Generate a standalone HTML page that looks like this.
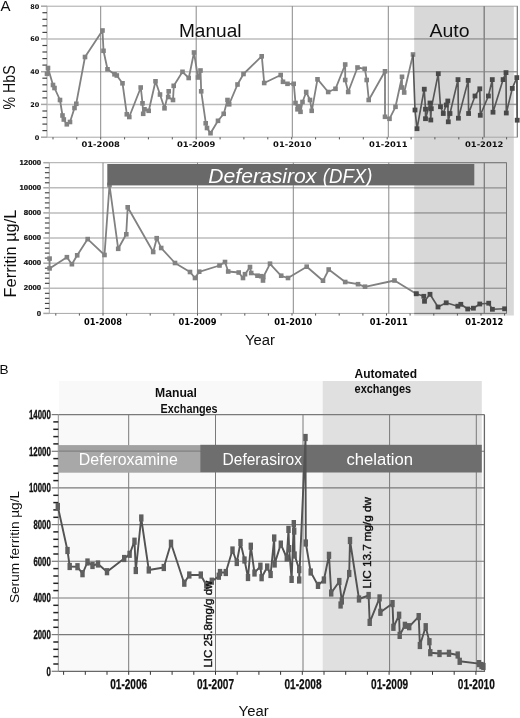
<!DOCTYPE html>
<html><head><meta charset="utf-8"><title>Figure</title>
<style>
html,body{margin:0;padding:0;background:#fff;}
svg{display:block;}
text{font-family:"Liberation Sans",sans-serif;}
.dv{font-family:"DejaVu Sans","Liberation Sans",sans-serif;font-weight:bold;}
.b{font-weight:bold;}
</style></head><body>
<svg width="520" height="718" viewBox="0 0 520 718">
<defs><filter id="soft" x="-2%" y="-2%" width="104%" height="104%"><feGaussianBlur stdDeviation="0.4"/></filter></defs>
<rect width="520" height="718" fill="#fff"/>
<g filter="url(#soft)">

<rect x="414.2" y="6" width="99.6" height="309.5" fill="#d8d8d8"/>
<rect x="47.0" y="6.2" width="470.3" height="131.0" fill="none" stroke="#a8a8a8" stroke-width="1"/>
<line x1="47.0" y1="104.4" x2="517.3" y2="104.4" stroke="#bcbcbc" stroke-width="1.5"/>
<line x1="47.0" y1="71.7" x2="517.3" y2="71.7" stroke="#bcbcbc" stroke-width="1.5"/>
<line x1="47.0" y1="38.9" x2="517.3" y2="38.9" stroke="#bcbcbc" stroke-width="1.5"/>
<line x1="100.7" y1="6.2" x2="100.7" y2="137.2" stroke="#7c7c7c" stroke-width="0.9"/>
<line x1="196.2" y1="6.2" x2="196.2" y2="137.2" stroke="#7c7c7c" stroke-width="0.9"/>
<line x1="292.3" y1="6.2" x2="292.3" y2="137.2" stroke="#7c7c7c" stroke-width="0.9"/>
<line x1="388.3" y1="6.2" x2="388.3" y2="137.2" stroke="#7c7c7c" stroke-width="0.9"/>
<line x1="484.2" y1="6.2" x2="484.2" y2="137.2" stroke="#7c7c7c" stroke-width="0.9"/>
<line x1="414.2" y1="104.4" x2="517.3" y2="104.4" stroke="#9a9a9a" stroke-width="1.2"/>
<line x1="414.2" y1="71.7" x2="517.3" y2="71.7" stroke="#9a9a9a" stroke-width="1.2"/>
<line x1="414.2" y1="38.9" x2="517.3" y2="38.9" stroke="#9a9a9a" stroke-width="1.2"/>
<line x1="484.2" y1="6.2" x2="484.2" y2="137.2" stroke="#787878" stroke-width="0.85"/>
<line x1="517.3" y1="6.2" x2="517.3" y2="137.2" stroke="#777" stroke-width="1"/>
<line x1="41.0" y1="137.2" x2="47.0" y2="137.2" stroke="#a6a6a6" stroke-width="1.5"/>
<line x1="42.4" y1="130.6" x2="47.0" y2="130.6" stroke="#444" stroke-width="1.2"/>
<line x1="42.4" y1="124.1" x2="47.0" y2="124.1" stroke="#444" stroke-width="1.2"/>
<line x1="42.4" y1="117.5" x2="47.0" y2="117.5" stroke="#444" stroke-width="1.2"/>
<line x1="42.4" y1="111.0" x2="47.0" y2="111.0" stroke="#444" stroke-width="1.2"/>
<line x1="41.0" y1="104.4" x2="47.0" y2="104.4" stroke="#a6a6a6" stroke-width="1.5"/>
<line x1="42.4" y1="97.9" x2="47.0" y2="97.9" stroke="#444" stroke-width="1.2"/>
<line x1="42.4" y1="91.3" x2="47.0" y2="91.3" stroke="#444" stroke-width="1.2"/>
<line x1="42.4" y1="84.8" x2="47.0" y2="84.8" stroke="#444" stroke-width="1.2"/>
<line x1="42.4" y1="78.2" x2="47.0" y2="78.2" stroke="#444" stroke-width="1.2"/>
<line x1="41.0" y1="71.7" x2="47.0" y2="71.7" stroke="#a6a6a6" stroke-width="1.5"/>
<line x1="42.4" y1="65.1" x2="47.0" y2="65.1" stroke="#444" stroke-width="1.2"/>
<line x1="42.4" y1="58.6" x2="47.0" y2="58.6" stroke="#444" stroke-width="1.2"/>
<line x1="42.4" y1="52.0" x2="47.0" y2="52.0" stroke="#444" stroke-width="1.2"/>
<line x1="42.4" y1="45.5" x2="47.0" y2="45.5" stroke="#444" stroke-width="1.2"/>
<line x1="41.0" y1="38.9" x2="47.0" y2="38.9" stroke="#a6a6a6" stroke-width="1.5"/>
<line x1="42.4" y1="32.4" x2="47.0" y2="32.4" stroke="#444" stroke-width="1.2"/>
<line x1="42.4" y1="25.8" x2="47.0" y2="25.8" stroke="#444" stroke-width="1.2"/>
<line x1="42.4" y1="19.3" x2="47.0" y2="19.3" stroke="#444" stroke-width="1.2"/>
<line x1="42.4" y1="12.7" x2="47.0" y2="12.7" stroke="#444" stroke-width="1.2"/>
<line x1="41.0" y1="6.2" x2="47.0" y2="6.2" stroke="#a6a6a6" stroke-width="1.5"/>
<text class="dv" x="39.3" y="139.6" font-size="6.5" text-anchor="end" fill="#111">0</text>
<text class="dv" x="39.3" y="106.8" font-size="6.5" text-anchor="end" fill="#111">20</text>
<text class="dv" x="39.3" y="74.1" font-size="6.5" text-anchor="end" fill="#111">40</text>
<text class="dv" x="39.3" y="41.3" font-size="6.5" text-anchor="end" fill="#111">60</text>
<text class="dv" x="39.3" y="8.6" font-size="6.5" text-anchor="end" fill="#111">80</text>
<line x1="53.0" y1="137.2" x2="53.0" y2="139.4" stroke="#555" stroke-width="1"/>
<line x1="76.8" y1="137.2" x2="76.8" y2="139.4" stroke="#555" stroke-width="1"/>
<line x1="100.7" y1="137.2" x2="100.7" y2="139.4" stroke="#555" stroke-width="1"/>
<line x1="124.6" y1="137.2" x2="124.6" y2="139.4" stroke="#555" stroke-width="1"/>
<line x1="148.4" y1="137.2" x2="148.4" y2="139.4" stroke="#555" stroke-width="1"/>
<line x1="172.3" y1="137.2" x2="172.3" y2="139.4" stroke="#555" stroke-width="1"/>
<line x1="196.2" y1="137.2" x2="196.2" y2="139.4" stroke="#555" stroke-width="1"/>
<line x1="220.1" y1="137.2" x2="220.1" y2="139.4" stroke="#555" stroke-width="1"/>
<line x1="243.9" y1="137.2" x2="243.9" y2="139.4" stroke="#555" stroke-width="1"/>
<line x1="267.8" y1="137.2" x2="267.8" y2="139.4" stroke="#555" stroke-width="1"/>
<line x1="291.7" y1="137.2" x2="291.7" y2="139.4" stroke="#555" stroke-width="1"/>
<line x1="315.6" y1="137.2" x2="315.6" y2="139.4" stroke="#555" stroke-width="1"/>
<line x1="339.4" y1="137.2" x2="339.4" y2="139.4" stroke="#555" stroke-width="1"/>
<line x1="363.3" y1="137.2" x2="363.3" y2="139.4" stroke="#555" stroke-width="1"/>
<line x1="387.2" y1="137.2" x2="387.2" y2="139.4" stroke="#555" stroke-width="1"/>
<line x1="411.1" y1="137.2" x2="411.1" y2="139.4" stroke="#555" stroke-width="1"/>
<line x1="434.9" y1="137.2" x2="434.9" y2="139.4" stroke="#555" stroke-width="1"/>
<line x1="458.8" y1="137.2" x2="458.8" y2="139.4" stroke="#555" stroke-width="1"/>
<line x1="482.7" y1="137.2" x2="482.7" y2="139.4" stroke="#555" stroke-width="1"/>
<line x1="506.6" y1="137.2" x2="506.6" y2="139.4" stroke="#555" stroke-width="1"/>
<text class="dv" x="100.7" y="147" font-size="7.7" text-anchor="middle" fill="#111" textLength="38.4" lengthAdjust="spacingAndGlyphs">01-2008</text>
<text class="dv" x="196.2" y="147" font-size="7.7" text-anchor="middle" fill="#111" textLength="38.4" lengthAdjust="spacingAndGlyphs">01-2009</text>
<text class="dv" x="292.3" y="147" font-size="7.7" text-anchor="middle" fill="#111" textLength="38.4" lengthAdjust="spacingAndGlyphs">01-2010</text>
<text class="dv" x="388.3" y="147" font-size="7.7" text-anchor="middle" fill="#111" textLength="38.4" lengthAdjust="spacingAndGlyphs">01-2011</text>
<text class="dv" x="484.2" y="147" font-size="7.7" text-anchor="middle" fill="#111" textLength="38.4" lengthAdjust="spacingAndGlyphs">01-2012</text>
<polyline points="47.0,73.8 48.0,68.0 53.0,85.0 54.5,88.0 60.0,100.0 62.5,115.5 63.8,119.5 66.8,124.2 70.0,122.0 74.5,108.0 76.2,103.8 85.0,57.0 102.5,30.5 103.5,50.8 107.5,69.2 114.5,74.2 116.8,75.5 122.5,83.2 126.8,114.2 129.2,117.0 140.8,87.5 142.5,103.2 143.2,113.8 144.5,109.2 148.8,110.8 155.5,81.2 160.0,94.5 164.5,108.2 168.8,91.2 168.2,97.0 173.0,100.0 173.8,85.8 182.5,71.8 188.8,78.0 194.0,52.5 198.0,77.5 200.5,70.5 201.2,91.2 205.8,123.2 207.0,128.0 210.5,133.2 218.0,120.8 223.8,113.8 227.5,100.0 229.2,104.2 237.5,84.5 243.5,74.0 261.8,56.2 264.2,83.0 280.8,75.0 283.0,81.8 287.5,83.8 293.8,83.8 295.5,103.0 297.5,109.2 299.2,106.2 300.5,111.8 302.5,102.0 306.2,92.0 310.0,100.0 311.8,110.8 317.5,79.2 328.2,92.0 335.5,88.8 345.2,64.5 345.2,80.0 348.2,92.0 357.5,67.5 364.8,68.8 366.8,80.0 368.8,100.0 385.0,71.2 385.0,116.8 389.5,118.8 395.5,106.8 402.0,76.8 402.0,87.5 404.2,92.5 413.0,54.5" fill="none" stroke="#818181" stroke-width="1.8" stroke-linejoin="round"/>
<rect x="44.7" y="71.5" width="4.6" height="4.6" fill="#828282"/><rect x="45.7" y="65.7" width="4.6" height="4.6" fill="#828282"/><rect x="50.7" y="82.7" width="4.6" height="4.6" fill="#828282"/><rect x="52.2" y="85.7" width="4.6" height="4.6" fill="#828282"/><rect x="57.7" y="97.7" width="4.6" height="4.6" fill="#828282"/><rect x="60.2" y="113.2" width="4.6" height="4.6" fill="#828282"/><rect x="61.5" y="117.2" width="4.6" height="4.6" fill="#828282"/><rect x="64.5" y="122.0" width="4.6" height="4.6" fill="#828282"/><rect x="67.7" y="119.7" width="4.6" height="4.6" fill="#828282"/><rect x="72.2" y="105.7" width="4.6" height="4.6" fill="#828282"/><rect x="74.0" y="101.5" width="4.6" height="4.6" fill="#828282"/><rect x="82.7" y="54.7" width="4.6" height="4.6" fill="#828282"/><rect x="100.2" y="28.2" width="4.6" height="4.6" fill="#828282"/><rect x="101.2" y="48.5" width="4.6" height="4.6" fill="#828282"/><rect x="105.2" y="67.0" width="4.6" height="4.6" fill="#828282"/><rect x="112.2" y="72.0" width="4.6" height="4.6" fill="#828282"/><rect x="114.5" y="73.2" width="4.6" height="4.6" fill="#828282"/><rect x="120.2" y="81.0" width="4.6" height="4.6" fill="#828282"/><rect x="124.5" y="112.0" width="4.6" height="4.6" fill="#828282"/><rect x="127.0" y="114.7" width="4.6" height="4.6" fill="#828282"/><rect x="138.4" y="85.2" width="4.6" height="4.6" fill="#828282"/><rect x="140.2" y="101.0" width="4.6" height="4.6" fill="#828282"/><rect x="140.9" y="111.5" width="4.6" height="4.6" fill="#828282"/><rect x="142.2" y="107.0" width="4.6" height="4.6" fill="#828282"/><rect x="146.4" y="108.5" width="4.6" height="4.6" fill="#828282"/><rect x="153.2" y="79.0" width="4.6" height="4.6" fill="#828282"/><rect x="157.7" y="92.2" width="4.6" height="4.6" fill="#828282"/><rect x="162.2" y="106.0" width="4.6" height="4.6" fill="#828282"/><rect x="166.4" y="89.0" width="4.6" height="4.6" fill="#828282"/><rect x="165.9" y="94.7" width="4.6" height="4.6" fill="#828282"/><rect x="170.7" y="97.7" width="4.6" height="4.6" fill="#828282"/><rect x="171.4" y="83.5" width="4.6" height="4.6" fill="#828282"/><rect x="180.2" y="69.5" width="4.6" height="4.6" fill="#828282"/><rect x="186.4" y="75.7" width="4.6" height="4.6" fill="#828282"/><rect x="191.7" y="50.2" width="4.6" height="4.6" fill="#828282"/><rect x="195.7" y="75.2" width="4.6" height="4.6" fill="#828282"/><rect x="198.2" y="68.2" width="4.6" height="4.6" fill="#828282"/><rect x="198.9" y="89.0" width="4.6" height="4.6" fill="#828282"/><rect x="203.4" y="121.0" width="4.6" height="4.6" fill="#828282"/><rect x="204.7" y="125.7" width="4.6" height="4.6" fill="#828282"/><rect x="208.2" y="130.9" width="4.6" height="4.6" fill="#828282"/><rect x="215.7" y="118.5" width="4.6" height="4.6" fill="#828282"/><rect x="221.4" y="111.5" width="4.6" height="4.6" fill="#828282"/><rect x="225.2" y="97.7" width="4.6" height="4.6" fill="#828282"/><rect x="226.9" y="102.0" width="4.6" height="4.6" fill="#828282"/><rect x="235.2" y="82.2" width="4.6" height="4.6" fill="#828282"/><rect x="241.2" y="71.7" width="4.6" height="4.6" fill="#828282"/><rect x="259.4" y="54.0" width="4.6" height="4.6" fill="#828282"/><rect x="261.9" y="80.7" width="4.6" height="4.6" fill="#828282"/><rect x="278.4" y="72.7" width="4.6" height="4.6" fill="#828282"/><rect x="280.7" y="79.5" width="4.6" height="4.6" fill="#828282"/><rect x="285.2" y="81.5" width="4.6" height="4.6" fill="#828282"/><rect x="291.4" y="81.5" width="4.6" height="4.6" fill="#828282"/><rect x="293.2" y="100.7" width="4.6" height="4.6" fill="#828282"/><rect x="295.2" y="107.0" width="4.6" height="4.6" fill="#828282"/><rect x="296.9" y="104.0" width="4.6" height="4.6" fill="#828282"/><rect x="298.2" y="109.5" width="4.6" height="4.6" fill="#828282"/><rect x="300.2" y="99.7" width="4.6" height="4.6" fill="#828282"/><rect x="303.9" y="89.7" width="4.6" height="4.6" fill="#828282"/><rect x="307.7" y="97.7" width="4.6" height="4.6" fill="#828282"/><rect x="309.4" y="108.5" width="4.6" height="4.6" fill="#828282"/><rect x="315.2" y="77.0" width="4.6" height="4.6" fill="#828282"/><rect x="325.9" y="89.7" width="4.6" height="4.6" fill="#828282"/><rect x="333.2" y="86.5" width="4.6" height="4.6" fill="#828282"/><rect x="342.9" y="62.2" width="4.6" height="4.6" fill="#828282"/><rect x="342.9" y="77.7" width="4.6" height="4.6" fill="#828282"/><rect x="345.9" y="89.7" width="4.6" height="4.6" fill="#828282"/><rect x="355.2" y="65.2" width="4.6" height="4.6" fill="#828282"/><rect x="362.4" y="66.5" width="4.6" height="4.6" fill="#828282"/><rect x="364.4" y="77.7" width="4.6" height="4.6" fill="#828282"/><rect x="366.4" y="97.7" width="4.6" height="4.6" fill="#828282"/><rect x="382.7" y="69.0" width="4.6" height="4.6" fill="#828282"/><rect x="382.7" y="114.5" width="4.6" height="4.6" fill="#828282"/><rect x="387.2" y="116.5" width="4.6" height="4.6" fill="#828282"/><rect x="393.2" y="104.5" width="4.6" height="4.6" fill="#828282"/><rect x="399.7" y="74.5" width="4.6" height="4.6" fill="#828282"/><rect x="399.7" y="85.2" width="4.6" height="4.6" fill="#828282"/><rect x="401.9" y="90.2" width="4.6" height="4.6" fill="#828282"/><rect x="410.7" y="52.2" width="4.6" height="4.6" fill="#828282"/>
<polyline points="413.0,54.5 415.0,110.0 417.0,128.8 424.2,89.2 425.5,109.2 425.5,118.8 430.0,103.0 430.8,120.0 431.2,108.8 438.2,73.8 440.5,106.8 443.2,113.5 446.2,105.0 447.8,101.0 448.2,121.8 450.0,113.5 458.0,79.6 458.4,118.2 468.2,80.4 468.6,113.5 475.0,96.0 479.8,88.8 480.3,115.3 488.4,96.0 492.3,79.6 493.0,112.2 503.1,79.6 506.0,72.6 506.3,113.0 512.3,88.4 516.8,77.6 517.2,120.2" fill="none" stroke="#565656" stroke-width="1.65" stroke-linejoin="round"/>
<rect x="412.6" y="107.6" width="4.8" height="4.8" fill="#4a4a4a"/><rect x="414.6" y="126.3" width="4.8" height="4.8" fill="#4a4a4a"/><rect x="421.9" y="86.8" width="4.8" height="4.8" fill="#4a4a4a"/><rect x="423.1" y="106.8" width="4.8" height="4.8" fill="#4a4a4a"/><rect x="423.1" y="116.3" width="4.8" height="4.8" fill="#4a4a4a"/><rect x="427.6" y="100.6" width="4.8" height="4.8" fill="#4a4a4a"/><rect x="428.4" y="117.6" width="4.8" height="4.8" fill="#4a4a4a"/><rect x="428.9" y="106.3" width="4.8" height="4.8" fill="#4a4a4a"/><rect x="435.9" y="71.3" width="4.8" height="4.8" fill="#4a4a4a"/><rect x="438.1" y="104.3" width="4.8" height="4.8" fill="#4a4a4a"/><rect x="440.9" y="111.1" width="4.8" height="4.8" fill="#4a4a4a"/><rect x="443.9" y="102.6" width="4.8" height="4.8" fill="#4a4a4a"/><rect x="445.4" y="98.6" width="4.8" height="4.8" fill="#4a4a4a"/><rect x="445.9" y="119.4" width="4.8" height="4.8" fill="#4a4a4a"/><rect x="447.6" y="111.1" width="4.8" height="4.8" fill="#4a4a4a"/><rect x="455.6" y="77.2" width="4.8" height="4.8" fill="#4a4a4a"/><rect x="456.0" y="115.8" width="4.8" height="4.8" fill="#4a4a4a"/><rect x="465.8" y="78.0" width="4.8" height="4.8" fill="#4a4a4a"/><rect x="466.2" y="111.1" width="4.8" height="4.8" fill="#4a4a4a"/><rect x="472.6" y="93.6" width="4.8" height="4.8" fill="#4a4a4a"/><rect x="477.4" y="86.4" width="4.8" height="4.8" fill="#4a4a4a"/><rect x="477.9" y="112.9" width="4.8" height="4.8" fill="#4a4a4a"/><rect x="486.0" y="93.6" width="4.8" height="4.8" fill="#4a4a4a"/><rect x="489.9" y="77.2" width="4.8" height="4.8" fill="#4a4a4a"/><rect x="490.6" y="109.8" width="4.8" height="4.8" fill="#4a4a4a"/><rect x="500.7" y="77.2" width="4.8" height="4.8" fill="#4a4a4a"/><rect x="503.6" y="70.2" width="4.8" height="4.8" fill="#4a4a4a"/><rect x="503.9" y="110.6" width="4.8" height="4.8" fill="#4a4a4a"/><rect x="509.9" y="86.0" width="4.8" height="4.8" fill="#4a4a4a"/><rect x="514.4" y="75.2" width="4.8" height="4.8" fill="#4a4a4a"/><rect x="514.8" y="117.8" width="4.8" height="4.8" fill="#4a4a4a"/>
<text x="179" y="37" font-size="18.2" fill="#111" textLength="62.5" lengthAdjust="spacingAndGlyphs">Manual</text>
<text x="429.5" y="37" font-size="18.2" fill="#111" textLength="40" lengthAdjust="spacingAndGlyphs">Auto</text>
<text x="0.4" y="10.6" font-size="15" fill="#111">A</text>
<text transform="translate(15.2,109.4) rotate(-90)" font-size="16.4" fill="#111" textLength="44" lengthAdjust="spacingAndGlyphs">% HbS</text>
<rect x="49.3" y="162.7" width="457.2" height="150.7" fill="none" stroke="#a8a8a8" stroke-width="1"/>
<line x1="49.3" y1="288.3" x2="506.5" y2="288.3" stroke="#bcbcbc" stroke-width="1.5"/>
<line x1="414.2" y1="288.3" x2="506.5" y2="288.3" stroke="#9a9a9a" stroke-width="1.2"/>
<line x1="49.3" y1="263.2" x2="506.5" y2="263.2" stroke="#bcbcbc" stroke-width="1.5"/>
<line x1="414.2" y1="263.2" x2="506.5" y2="263.2" stroke="#9a9a9a" stroke-width="1.2"/>
<line x1="49.3" y1="238.0" x2="506.5" y2="238.0" stroke="#bcbcbc" stroke-width="1.5"/>
<line x1="414.2" y1="238.0" x2="506.5" y2="238.0" stroke="#9a9a9a" stroke-width="1.2"/>
<line x1="49.3" y1="212.9" x2="506.5" y2="212.9" stroke="#bcbcbc" stroke-width="1.5"/>
<line x1="414.2" y1="212.9" x2="506.5" y2="212.9" stroke="#9a9a9a" stroke-width="1.2"/>
<line x1="49.3" y1="187.8" x2="506.5" y2="187.8" stroke="#bcbcbc" stroke-width="1.5"/>
<line x1="414.2" y1="187.8" x2="506.5" y2="187.8" stroke="#9a9a9a" stroke-width="1.2"/>
<line x1="103.0" y1="162.7" x2="103.0" y2="313.4" stroke="#7c7c7c" stroke-width="0.9"/>
<line x1="197.5" y1="162.7" x2="197.5" y2="313.4" stroke="#7c7c7c" stroke-width="0.9"/>
<line x1="293.3" y1="162.7" x2="293.3" y2="313.4" stroke="#7c7c7c" stroke-width="0.9"/>
<line x1="388.8" y1="162.7" x2="388.8" y2="313.4" stroke="#7c7c7c" stroke-width="0.9"/>
<line x1="484.3" y1="162.7" x2="484.3" y2="313.4" stroke="#7c7c7c" stroke-width="0.9"/>
<line x1="484.3" y1="162.7" x2="484.3" y2="313.4" stroke="#787878" stroke-width="0.85"/>
<path d="M414.2 162.7 H506.5 V313.4 H414.2" fill="none" stroke="#777" stroke-width="1"/>
<line x1="43.3" y1="313.4" x2="49.3" y2="313.4" stroke="#a6a6a6" stroke-width="1.5"/>
<line x1="44.9" y1="308.4" x2="49.3" y2="308.4" stroke="#3a3a3a" stroke-width="1.1"/>
<line x1="44.9" y1="303.4" x2="49.3" y2="303.4" stroke="#3a3a3a" stroke-width="1.1"/>
<line x1="44.9" y1="298.3" x2="49.3" y2="298.3" stroke="#3a3a3a" stroke-width="1.1"/>
<line x1="44.9" y1="293.3" x2="49.3" y2="293.3" stroke="#3a3a3a" stroke-width="1.1"/>
<line x1="43.3" y1="288.3" x2="49.3" y2="288.3" stroke="#a6a6a6" stroke-width="1.5"/>
<line x1="44.9" y1="283.3" x2="49.3" y2="283.3" stroke="#3a3a3a" stroke-width="1.1"/>
<line x1="44.9" y1="278.2" x2="49.3" y2="278.2" stroke="#3a3a3a" stroke-width="1.1"/>
<line x1="44.9" y1="273.2" x2="49.3" y2="273.2" stroke="#3a3a3a" stroke-width="1.1"/>
<line x1="44.9" y1="268.2" x2="49.3" y2="268.2" stroke="#3a3a3a" stroke-width="1.1"/>
<line x1="43.3" y1="263.2" x2="49.3" y2="263.2" stroke="#a6a6a6" stroke-width="1.5"/>
<line x1="44.9" y1="258.1" x2="49.3" y2="258.1" stroke="#3a3a3a" stroke-width="1.1"/>
<line x1="44.9" y1="253.1" x2="49.3" y2="253.1" stroke="#3a3a3a" stroke-width="1.1"/>
<line x1="44.9" y1="248.1" x2="49.3" y2="248.1" stroke="#3a3a3a" stroke-width="1.1"/>
<line x1="44.9" y1="243.1" x2="49.3" y2="243.1" stroke="#3a3a3a" stroke-width="1.1"/>
<line x1="43.3" y1="238.0" x2="49.3" y2="238.0" stroke="#a6a6a6" stroke-width="1.5"/>
<line x1="44.9" y1="233.0" x2="49.3" y2="233.0" stroke="#3a3a3a" stroke-width="1.1"/>
<line x1="44.9" y1="228.0" x2="49.3" y2="228.0" stroke="#3a3a3a" stroke-width="1.1"/>
<line x1="44.9" y1="223.0" x2="49.3" y2="223.0" stroke="#3a3a3a" stroke-width="1.1"/>
<line x1="44.9" y1="218.0" x2="49.3" y2="218.0" stroke="#3a3a3a" stroke-width="1.1"/>
<line x1="43.3" y1="212.9" x2="49.3" y2="212.9" stroke="#a6a6a6" stroke-width="1.5"/>
<line x1="44.9" y1="207.9" x2="49.3" y2="207.9" stroke="#3a3a3a" stroke-width="1.1"/>
<line x1="44.9" y1="202.9" x2="49.3" y2="202.9" stroke="#3a3a3a" stroke-width="1.1"/>
<line x1="44.9" y1="197.9" x2="49.3" y2="197.9" stroke="#3a3a3a" stroke-width="1.1"/>
<line x1="44.9" y1="192.8" x2="49.3" y2="192.8" stroke="#3a3a3a" stroke-width="1.1"/>
<line x1="43.3" y1="187.8" x2="49.3" y2="187.8" stroke="#a6a6a6" stroke-width="1.5"/>
<line x1="44.9" y1="182.8" x2="49.3" y2="182.8" stroke="#3a3a3a" stroke-width="1.1"/>
<line x1="44.9" y1="177.8" x2="49.3" y2="177.8" stroke="#3a3a3a" stroke-width="1.1"/>
<line x1="44.9" y1="172.7" x2="49.3" y2="172.7" stroke="#3a3a3a" stroke-width="1.1"/>
<line x1="44.9" y1="167.7" x2="49.3" y2="167.7" stroke="#3a3a3a" stroke-width="1.1"/>
<line x1="43.3" y1="162.7" x2="49.3" y2="162.7" stroke="#a6a6a6" stroke-width="1.5"/>
<text class="b" x="41.2" y="315.5" font-size="7.8" text-anchor="end" fill="#0a0a0a" stroke="#0a0a0a" stroke-width="0.2">0</text>
<text class="b" x="41.2" y="290.4" font-size="7.8" text-anchor="end" fill="#0a0a0a" stroke="#0a0a0a" stroke-width="0.2">2000</text>
<text class="b" x="41.2" y="265.3" font-size="7.8" text-anchor="end" fill="#0a0a0a" stroke="#0a0a0a" stroke-width="0.2">4000</text>
<text class="b" x="41.2" y="240.1" font-size="7.8" text-anchor="end" fill="#0a0a0a" stroke="#0a0a0a" stroke-width="0.2">6000</text>
<text class="b" x="41.2" y="215.0" font-size="7.8" text-anchor="end" fill="#0a0a0a" stroke="#0a0a0a" stroke-width="0.2">8000</text>
<text class="b" x="41.2" y="189.9" font-size="7.8" text-anchor="end" fill="#0a0a0a" stroke="#0a0a0a" stroke-width="0.2">10000</text>
<text class="b" x="41.2" y="164.8" font-size="7.8" text-anchor="end" fill="#0a0a0a" stroke="#0a0a0a" stroke-width="0.2">12000</text>
<line x1="55.8" y1="313.4" x2="55.8" y2="315.6" stroke="#555" stroke-width="1"/>
<line x1="79.4" y1="313.4" x2="79.4" y2="315.6" stroke="#555" stroke-width="1"/>
<line x1="103.0" y1="313.4" x2="103.0" y2="315.6" stroke="#555" stroke-width="1"/>
<line x1="126.6" y1="313.4" x2="126.6" y2="315.6" stroke="#555" stroke-width="1"/>
<line x1="150.2" y1="313.4" x2="150.2" y2="315.6" stroke="#555" stroke-width="1"/>
<line x1="173.9" y1="313.4" x2="173.9" y2="315.6" stroke="#555" stroke-width="1"/>
<line x1="197.5" y1="313.4" x2="197.5" y2="315.6" stroke="#555" stroke-width="1"/>
<line x1="221.1" y1="313.4" x2="221.1" y2="315.6" stroke="#555" stroke-width="1"/>
<line x1="244.8" y1="313.4" x2="244.8" y2="315.6" stroke="#555" stroke-width="1"/>
<line x1="268.4" y1="313.4" x2="268.4" y2="315.6" stroke="#555" stroke-width="1"/>
<line x1="292.0" y1="313.4" x2="292.0" y2="315.6" stroke="#555" stroke-width="1"/>
<line x1="315.6" y1="313.4" x2="315.6" y2="315.6" stroke="#555" stroke-width="1"/>
<line x1="339.2" y1="313.4" x2="339.2" y2="315.6" stroke="#555" stroke-width="1"/>
<line x1="362.9" y1="313.4" x2="362.9" y2="315.6" stroke="#555" stroke-width="1"/>
<line x1="386.5" y1="313.4" x2="386.5" y2="315.6" stroke="#555" stroke-width="1"/>
<line x1="410.1" y1="313.4" x2="410.1" y2="315.6" stroke="#555" stroke-width="1"/>
<line x1="433.8" y1="313.4" x2="433.8" y2="315.6" stroke="#555" stroke-width="1"/>
<line x1="457.4" y1="313.4" x2="457.4" y2="315.6" stroke="#555" stroke-width="1"/>
<line x1="481.0" y1="313.4" x2="481.0" y2="315.6" stroke="#555" stroke-width="1"/>
<line x1="504.6" y1="313.4" x2="504.6" y2="315.6" stroke="#555" stroke-width="1"/>
<text class="dv" x="103.0" y="324.5" font-size="8.3" text-anchor="middle" fill="#000" textLength="38" lengthAdjust="spacingAndGlyphs">01-2008</text>
<text class="dv" x="197.5" y="324.5" font-size="8.3" text-anchor="middle" fill="#000" textLength="38" lengthAdjust="spacingAndGlyphs">01-2009</text>
<text class="dv" x="293.3" y="324.5" font-size="8.3" text-anchor="middle" fill="#000" textLength="38" lengthAdjust="spacingAndGlyphs">01-2010</text>
<text class="dv" x="388.8" y="324.5" font-size="8.3" text-anchor="middle" fill="#000" textLength="38" lengthAdjust="spacingAndGlyphs">01-2011</text>
<text class="dv" x="484.3" y="324.5" font-size="8.3" text-anchor="middle" fill="#000" textLength="38" lengthAdjust="spacingAndGlyphs">01-2012</text>
<polyline points="49.6,258.6 49.6,268.4 66.9,257.2 71.9,264.2 77.2,255.3 87.7,239.1 104.5,255.0 109.5,185.0 118.2,248.8 126.2,234.3 127.7,207.3 153.2,252.0 156.8,238.2 161.2,248.0 175.0,263.0 190.0,272.0 195.0,278.0 199.2,271.8 219.5,265.5 225.0,262.0 228.2,271.5 238.8,272.5 243.0,278.0 245.0,274.2 250.0,267.0 251.2,273.0 257.5,275.8 261.2,276.2 263.0,280.5 263.3,277.0 270.0,263.8 281.2,275.8 288.0,278.0 306.8,266.8 323.0,280.8 328.8,269.5 345.2,282.0 358.0,284.2 365.0,286.8 394.5,280.5 416.2,293.8" fill="none" stroke="#818181" stroke-width="1.8" stroke-linejoin="round"/>
<rect x="47.3" y="256.3" width="4.6" height="4.6" fill="#828282"/><rect x="47.3" y="266.1" width="4.6" height="4.6" fill="#828282"/><rect x="64.6" y="254.9" width="4.6" height="4.6" fill="#828282"/><rect x="69.6" y="261.9" width="4.6" height="4.6" fill="#828282"/><rect x="74.9" y="253.0" width="4.6" height="4.6" fill="#828282"/><rect x="85.4" y="236.8" width="4.6" height="4.6" fill="#828282"/><rect x="102.2" y="252.7" width="4.6" height="4.6" fill="#828282"/><rect x="107.2" y="182.7" width="4.6" height="4.6" fill="#828282"/><rect x="115.9" y="246.5" width="4.6" height="4.6" fill="#828282"/><rect x="124.0" y="232.0" width="4.6" height="4.6" fill="#828282"/><rect x="125.4" y="205.0" width="4.6" height="4.6" fill="#828282"/><rect x="150.9" y="249.7" width="4.6" height="4.6" fill="#828282"/><rect x="154.4" y="235.9" width="4.6" height="4.6" fill="#828282"/><rect x="158.9" y="245.7" width="4.6" height="4.6" fill="#828282"/><rect x="172.7" y="260.7" width="4.6" height="4.6" fill="#828282"/><rect x="187.7" y="269.7" width="4.6" height="4.6" fill="#828282"/><rect x="192.7" y="275.7" width="4.6" height="4.6" fill="#828282"/><rect x="196.9" y="269.4" width="4.6" height="4.6" fill="#828282"/><rect x="217.2" y="263.2" width="4.6" height="4.6" fill="#828282"/><rect x="222.7" y="259.7" width="4.6" height="4.6" fill="#828282"/><rect x="225.9" y="269.2" width="4.6" height="4.6" fill="#828282"/><rect x="236.4" y="270.2" width="4.6" height="4.6" fill="#828282"/><rect x="240.7" y="275.7" width="4.6" height="4.6" fill="#828282"/><rect x="242.7" y="271.9" width="4.6" height="4.6" fill="#828282"/><rect x="247.7" y="264.7" width="4.6" height="4.6" fill="#828282"/><rect x="248.9" y="270.7" width="4.6" height="4.6" fill="#828282"/><rect x="255.2" y="273.4" width="4.6" height="4.6" fill="#828282"/><rect x="258.9" y="273.9" width="4.6" height="4.6" fill="#828282"/><rect x="260.7" y="278.2" width="4.6" height="4.6" fill="#828282"/><rect x="261.0" y="274.7" width="4.6" height="4.6" fill="#828282"/><rect x="267.7" y="261.4" width="4.6" height="4.6" fill="#828282"/><rect x="278.9" y="273.4" width="4.6" height="4.6" fill="#828282"/><rect x="285.7" y="275.7" width="4.6" height="4.6" fill="#828282"/><rect x="304.4" y="264.4" width="4.6" height="4.6" fill="#828282"/><rect x="320.7" y="278.4" width="4.6" height="4.6" fill="#828282"/><rect x="326.4" y="267.2" width="4.6" height="4.6" fill="#828282"/><rect x="342.9" y="279.7" width="4.6" height="4.6" fill="#828282"/><rect x="355.7" y="281.9" width="4.6" height="4.6" fill="#828282"/><rect x="362.7" y="284.4" width="4.6" height="4.6" fill="#828282"/><rect x="392.2" y="278.2" width="4.6" height="4.6" fill="#828282"/><rect x="413.9" y="291.4" width="4.6" height="4.6" fill="#828282"/>
<polyline points="416.2,293.8 423.8,296.2 424.5,301.2 430.0,294.2 438.0,307.0 446.2,302.8 457.8,306.2 460.8,304.3 467.7,309.0 473.4,308.2 479.8,304.0 488.7,303.2 492.4,309.3 504.6,308.8" fill="none" stroke="#565656" stroke-width="1.65" stroke-linejoin="round"/>
<rect x="413.9" y="291.4" width="4.8" height="4.8" fill="#4a4a4a"/><rect x="421.4" y="293.9" width="4.8" height="4.8" fill="#4a4a4a"/><rect x="422.1" y="298.9" width="4.8" height="4.8" fill="#4a4a4a"/><rect x="427.6" y="291.9" width="4.8" height="4.8" fill="#4a4a4a"/><rect x="435.6" y="304.6" width="4.8" height="4.8" fill="#4a4a4a"/><rect x="443.8" y="300.4" width="4.8" height="4.8" fill="#4a4a4a"/><rect x="455.4" y="303.8" width="4.8" height="4.8" fill="#4a4a4a"/><rect x="458.4" y="301.9" width="4.8" height="4.8" fill="#4a4a4a"/><rect x="465.3" y="306.6" width="4.8" height="4.8" fill="#4a4a4a"/><rect x="471.0" y="305.8" width="4.8" height="4.8" fill="#4a4a4a"/><rect x="477.4" y="301.6" width="4.8" height="4.8" fill="#4a4a4a"/><rect x="486.3" y="300.8" width="4.8" height="4.8" fill="#4a4a4a"/><rect x="490.0" y="306.9" width="4.8" height="4.8" fill="#4a4a4a"/><rect x="502.2" y="306.4" width="4.8" height="4.8" fill="#4a4a4a"/>
<rect x="107.3" y="164" width="367" height="21.4" fill="#696969"/>
<text x="208.3" y="182.7" font-size="20.4" font-style="italic" fill="#fff" textLength="108" lengthAdjust="spacingAndGlyphs">Deferasirox</text>
<text x="322.8" y="182.7" font-size="20.4" font-style="italic" fill="#fff" textLength="49.6" lengthAdjust="spacingAndGlyphs">(DFX)</text>
<text transform="translate(16.1,297.4) rotate(-90)" font-size="17.2" fill="#111" textLength="87.8" lengthAdjust="spacingAndGlyphs">Ferritin µg/L</text>
<text x="245" y="344.5" font-size="14.7" fill="#111" textLength="30" lengthAdjust="spacingAndGlyphs">Year</text>
<text x="-0.6" y="374.2" font-size="13.6" fill="#111">B</text>
<rect x="59" y="381" width="264" height="290" fill="#f9f9f9"/>
<rect x="322.7" y="381" width="159.1" height="290" fill="#e0e0e0"/>
<line x1="58.3" y1="634.6" x2="484.4" y2="634.6" stroke="#7a7a7a" stroke-width="1.1"/>
<line x1="58.3" y1="598.0" x2="484.4" y2="598.0" stroke="#7a7a7a" stroke-width="1.1"/>
<line x1="58.3" y1="561.3" x2="484.4" y2="561.3" stroke="#7a7a7a" stroke-width="1.1"/>
<line x1="58.3" y1="524.6" x2="484.4" y2="524.6" stroke="#7a7a7a" stroke-width="1.1"/>
<line x1="58.3" y1="487.9" x2="484.4" y2="487.9" stroke="#7a7a7a" stroke-width="1.1"/>
<line x1="58.3" y1="451.3" x2="484.4" y2="451.3" stroke="#7a7a7a" stroke-width="1.1"/>
<line x1="58.3" y1="414.6" x2="484.4" y2="414.6" stroke="#7a7a7a" stroke-width="1.1"/>
<line x1="128.7" y1="414.6" x2="128.7" y2="671.3" stroke="#7a7a7a" stroke-width="1"/>
<line x1="215.5" y1="414.6" x2="215.5" y2="671.3" stroke="#7a7a7a" stroke-width="1"/>
<line x1="303.0" y1="414.6" x2="303.0" y2="671.3" stroke="#7a7a7a" stroke-width="1"/>
<line x1="389.6" y1="414.6" x2="389.6" y2="671.3" stroke="#7a7a7a" stroke-width="1"/>
<line x1="476.3" y1="414.6" x2="476.3" y2="671.3" stroke="#7a7a7a" stroke-width="1"/>
<path d="M58.3 414.6 V671.3" fill="none" stroke="#909090" stroke-width="1"/>
<path d="M58.3 671.3 H484.4 V414.6" fill="none" stroke="#686868" stroke-width="1.3"/>
<line x1="51.7" y1="671.3" x2="58.3" y2="671.3" stroke="#7a7a7a" stroke-width="1.2"/>
<line x1="53.3" y1="664.0" x2="58.3" y2="664.0" stroke="#222" stroke-width="1.5"/>
<line x1="53.3" y1="656.6" x2="58.3" y2="656.6" stroke="#222" stroke-width="1.5"/>
<line x1="53.3" y1="649.3" x2="58.3" y2="649.3" stroke="#222" stroke-width="1.5"/>
<line x1="53.3" y1="642.0" x2="58.3" y2="642.0" stroke="#222" stroke-width="1.5"/>
<line x1="51.7" y1="634.6" x2="58.3" y2="634.6" stroke="#7a7a7a" stroke-width="1.2"/>
<line x1="53.3" y1="627.3" x2="58.3" y2="627.3" stroke="#222" stroke-width="1.5"/>
<line x1="53.3" y1="620.0" x2="58.3" y2="620.0" stroke="#222" stroke-width="1.5"/>
<line x1="53.3" y1="612.6" x2="58.3" y2="612.6" stroke="#222" stroke-width="1.5"/>
<line x1="53.3" y1="605.3" x2="58.3" y2="605.3" stroke="#222" stroke-width="1.5"/>
<line x1="51.7" y1="598.0" x2="58.3" y2="598.0" stroke="#7a7a7a" stroke-width="1.2"/>
<line x1="53.3" y1="590.6" x2="58.3" y2="590.6" stroke="#222" stroke-width="1.5"/>
<line x1="53.3" y1="583.3" x2="58.3" y2="583.3" stroke="#222" stroke-width="1.5"/>
<line x1="53.3" y1="576.0" x2="58.3" y2="576.0" stroke="#222" stroke-width="1.5"/>
<line x1="53.3" y1="568.6" x2="58.3" y2="568.6" stroke="#222" stroke-width="1.5"/>
<line x1="51.7" y1="561.3" x2="58.3" y2="561.3" stroke="#7a7a7a" stroke-width="1.2"/>
<line x1="53.3" y1="554.0" x2="58.3" y2="554.0" stroke="#222" stroke-width="1.5"/>
<line x1="53.3" y1="546.6" x2="58.3" y2="546.6" stroke="#222" stroke-width="1.5"/>
<line x1="53.3" y1="539.3" x2="58.3" y2="539.3" stroke="#222" stroke-width="1.5"/>
<line x1="53.3" y1="531.9" x2="58.3" y2="531.9" stroke="#222" stroke-width="1.5"/>
<line x1="51.7" y1="524.6" x2="58.3" y2="524.6" stroke="#7a7a7a" stroke-width="1.2"/>
<line x1="53.3" y1="517.3" x2="58.3" y2="517.3" stroke="#222" stroke-width="1.5"/>
<line x1="53.3" y1="509.9" x2="58.3" y2="509.9" stroke="#222" stroke-width="1.5"/>
<line x1="53.3" y1="502.6" x2="58.3" y2="502.6" stroke="#222" stroke-width="1.5"/>
<line x1="53.3" y1="495.3" x2="58.3" y2="495.3" stroke="#222" stroke-width="1.5"/>
<line x1="51.7" y1="487.9" x2="58.3" y2="487.9" stroke="#7a7a7a" stroke-width="1.2"/>
<line x1="53.3" y1="480.6" x2="58.3" y2="480.6" stroke="#222" stroke-width="1.5"/>
<line x1="53.3" y1="473.3" x2="58.3" y2="473.3" stroke="#222" stroke-width="1.5"/>
<line x1="53.3" y1="465.9" x2="58.3" y2="465.9" stroke="#222" stroke-width="1.5"/>
<line x1="53.3" y1="458.6" x2="58.3" y2="458.6" stroke="#222" stroke-width="1.5"/>
<line x1="51.7" y1="451.3" x2="58.3" y2="451.3" stroke="#7a7a7a" stroke-width="1.2"/>
<line x1="53.3" y1="443.9" x2="58.3" y2="443.9" stroke="#222" stroke-width="1.5"/>
<line x1="53.3" y1="436.6" x2="58.3" y2="436.6" stroke="#222" stroke-width="1.5"/>
<line x1="53.3" y1="429.3" x2="58.3" y2="429.3" stroke="#222" stroke-width="1.5"/>
<line x1="53.3" y1="421.9" x2="58.3" y2="421.9" stroke="#222" stroke-width="1.5"/>
<line x1="51.7" y1="414.6" x2="58.3" y2="414.6" stroke="#7a7a7a" stroke-width="1.2"/>
<text class="b" x="50.8" y="675.5" font-size="13.5" text-anchor="end" fill="#111" stroke="#111" stroke-width="0.35" textLength="4.3" lengthAdjust="spacingAndGlyphs">0</text>
<text class="b" x="50.8" y="638.8" font-size="13.5" text-anchor="end" fill="#111" stroke="#111" stroke-width="0.35" textLength="17.4" lengthAdjust="spacingAndGlyphs">2000</text>
<text class="b" x="50.8" y="602.2" font-size="13.5" text-anchor="end" fill="#111" stroke="#111" stroke-width="0.35" textLength="17.4" lengthAdjust="spacingAndGlyphs">4000</text>
<text class="b" x="50.8" y="565.5" font-size="13.5" text-anchor="end" fill="#111" stroke="#111" stroke-width="0.35" textLength="17.4" lengthAdjust="spacingAndGlyphs">6000</text>
<text class="b" x="50.8" y="528.8" font-size="13.5" text-anchor="end" fill="#111" stroke="#111" stroke-width="0.35" textLength="17.4" lengthAdjust="spacingAndGlyphs">8000</text>
<text class="b" x="50.8" y="492.1" font-size="13.5" text-anchor="end" fill="#111" stroke="#111" stroke-width="0.35" textLength="21.8" lengthAdjust="spacingAndGlyphs">10000</text>
<text class="b" x="50.8" y="455.5" font-size="13.5" text-anchor="end" fill="#111" stroke="#111" stroke-width="0.35" textLength="21.8" lengthAdjust="spacingAndGlyphs">12000</text>
<text class="b" x="50.8" y="418.8" font-size="13.5" text-anchor="end" fill="#111" stroke="#111" stroke-width="0.35" textLength="21.8" lengthAdjust="spacingAndGlyphs">14000</text>
<line x1="63.6" y1="671.3" x2="63.6" y2="674.8" stroke="#333" stroke-width="1"/>
<line x1="85.3" y1="671.3" x2="85.3" y2="674.8" stroke="#333" stroke-width="1"/>
<line x1="107.0" y1="671.3" x2="107.0" y2="674.8" stroke="#333" stroke-width="1"/>
<line x1="128.7" y1="671.3" x2="128.7" y2="674.8" stroke="#333" stroke-width="1"/>
<line x1="150.4" y1="671.3" x2="150.4" y2="674.8" stroke="#333" stroke-width="1"/>
<line x1="172.1" y1="671.3" x2="172.1" y2="674.8" stroke="#333" stroke-width="1"/>
<line x1="193.8" y1="671.3" x2="193.8" y2="674.8" stroke="#333" stroke-width="1"/>
<line x1="215.5" y1="671.3" x2="215.5" y2="674.8" stroke="#333" stroke-width="1"/>
<line x1="237.2" y1="671.3" x2="237.2" y2="674.8" stroke="#333" stroke-width="1"/>
<line x1="258.9" y1="671.3" x2="258.9" y2="674.8" stroke="#333" stroke-width="1"/>
<line x1="280.6" y1="671.3" x2="280.6" y2="674.8" stroke="#333" stroke-width="1"/>
<line x1="302.3" y1="671.3" x2="302.3" y2="674.8" stroke="#333" stroke-width="1"/>
<line x1="324.0" y1="671.3" x2="324.0" y2="674.8" stroke="#333" stroke-width="1"/>
<line x1="345.7" y1="671.3" x2="345.7" y2="674.8" stroke="#333" stroke-width="1"/>
<line x1="367.4" y1="671.3" x2="367.4" y2="674.8" stroke="#333" stroke-width="1"/>
<line x1="389.1" y1="671.3" x2="389.1" y2="674.8" stroke="#333" stroke-width="1"/>
<line x1="410.8" y1="671.3" x2="410.8" y2="674.8" stroke="#333" stroke-width="1"/>
<line x1="432.5" y1="671.3" x2="432.5" y2="674.8" stroke="#333" stroke-width="1"/>
<line x1="454.2" y1="671.3" x2="454.2" y2="674.8" stroke="#333" stroke-width="1"/>
<line x1="475.9" y1="671.3" x2="475.9" y2="674.8" stroke="#333" stroke-width="1"/>
<text class="b" x="128.7" y="689" font-size="14.2" text-anchor="middle" fill="#111" stroke="#111" stroke-width="0.25" textLength="37" lengthAdjust="spacingAndGlyphs">01-2006</text>
<text class="b" x="215.5" y="689" font-size="14.2" text-anchor="middle" fill="#111" stroke="#111" stroke-width="0.25" textLength="37" lengthAdjust="spacingAndGlyphs">01-2007</text>
<text class="b" x="303.0" y="689" font-size="14.2" text-anchor="middle" fill="#111" stroke="#111" stroke-width="0.25" textLength="37" lengthAdjust="spacingAndGlyphs">01-2008</text>
<text class="b" x="389.6" y="689" font-size="14.2" text-anchor="middle" fill="#111" stroke="#111" stroke-width="0.25" textLength="37" lengthAdjust="spacingAndGlyphs">01-2009</text>
<text class="b" x="476.3" y="689" font-size="14.2" text-anchor="middle" fill="#111" stroke="#111" stroke-width="0.25" textLength="37" lengthAdjust="spacingAndGlyphs">01-2010</text>
<rect x="58.8" y="445.3" width="141.5" height="27.4" fill="#a8a8a8"/>
<rect x="58.8" y="445.3" width="141.5" height="5.4" fill="#a2a2a2"/>
<line x1="58.8" y1="451.1" x2="200.2" y2="451.1" stroke="#828282" stroke-width="1.1"/>
<rect x="200.2" y="444.8" width="281.6" height="27.7" fill="#6e6e6e"/>
<polyline points="57.8,506.5 67.5,550.5 69.7,566.5 77.5,566.7 82.5,573.8 87.5,562.0 92.5,565.5 98.0,564.0 107.0,571.8 124.2,558.5 129.6,554.3 134.5,541.2 135.8,570.5 141.2,518.0 148.8,570.0 163.8,567.5 171.0,543.2 184.2,583.2 189.2,575.0 200.8,575.0 206.2,585.0 211.8,581.2 218.8,576.2 220.0,572.5 225.8,572.5 232.5,550.0 236.8,562.5 240.5,542.5 244.5,560.0 248.0,577.5 250.8,546.2 254.5,573.0 260.4,566.2 261.6,577.7 267.2,567.0 270.6,574.5 274.2,538.0 274.6,564.0 280.8,544.1 286.8,558.0 288.5,529.4 289.1,548.6 291.6,579.4 293.8,523.6 294.2,531.1 294.6,555.0 299.2,569.6 299.2,580.0 305.5,437.5 305.8,543.0 310.7,572.0 318.0,585.4 323.9,580.0 329.0,555.3 331.2,593.0 339.3,581.5 341.8,601.0 340.6,605.0 349.2,573.5 350.0,540.5 359.0,599.0 368.6,595.5 369.7,622.4 379.6,597.9 380.4,612.3 392.5,603.6 393.4,627.3 399.1,615.2 399.7,635.4 404.9,625.3 409.2,626.7 418.7,616.6 419.9,645.5 425.7,626.7 429.4,641.7 430.3,652.7 439.5,653.5 449.0,653.3 457.7,655.0 459.7,661.3 479.0,663.6 481.5,665.5 483.4,666.5" fill="none" stroke="#525252" stroke-width="1.9" stroke-linejoin="round"/>
<rect x="55.6" y="502.9" width="4.4" height="7.2" fill="#5e5e5e"/><rect x="65.3" y="546.9" width="4.4" height="7.2" fill="#5e5e5e"/><rect x="67.5" y="562.9" width="4.4" height="7.2" fill="#5e5e5e"/><rect x="75.3" y="563.1" width="4.4" height="7.2" fill="#5e5e5e"/><rect x="80.3" y="570.1" width="4.4" height="7.2" fill="#5e5e5e"/><rect x="85.3" y="558.4" width="4.4" height="7.2" fill="#5e5e5e"/><rect x="90.3" y="561.9" width="4.4" height="7.2" fill="#5e5e5e"/><rect x="95.8" y="560.4" width="4.4" height="7.2" fill="#5e5e5e"/><rect x="104.8" y="568.1" width="4.4" height="7.2" fill="#5e5e5e"/><rect x="122.0" y="554.9" width="4.4" height="7.2" fill="#5e5e5e"/><rect x="127.4" y="550.7" width="4.4" height="7.2" fill="#5e5e5e"/><rect x="132.3" y="537.6" width="4.4" height="7.2" fill="#5e5e5e"/><rect x="133.6" y="566.9" width="4.4" height="7.2" fill="#5e5e5e"/><rect x="139.1" y="514.4" width="4.4" height="7.2" fill="#5e5e5e"/><rect x="146.6" y="566.4" width="4.4" height="7.2" fill="#5e5e5e"/><rect x="161.6" y="563.9" width="4.4" height="7.2" fill="#5e5e5e"/><rect x="168.8" y="539.6" width="4.4" height="7.2" fill="#5e5e5e"/><rect x="182.1" y="579.6" width="4.4" height="7.2" fill="#5e5e5e"/><rect x="187.1" y="571.4" width="4.4" height="7.2" fill="#5e5e5e"/><rect x="198.6" y="571.4" width="4.4" height="7.2" fill="#5e5e5e"/><rect x="204.1" y="581.4" width="4.4" height="7.2" fill="#5e5e5e"/><rect x="209.6" y="577.6" width="4.4" height="7.2" fill="#5e5e5e"/><rect x="216.6" y="572.6" width="4.4" height="7.2" fill="#5e5e5e"/><rect x="217.8" y="568.9" width="4.4" height="7.2" fill="#5e5e5e"/><rect x="223.6" y="568.9" width="4.4" height="7.2" fill="#5e5e5e"/><rect x="230.3" y="546.4" width="4.4" height="7.2" fill="#5e5e5e"/><rect x="234.6" y="558.9" width="4.4" height="7.2" fill="#5e5e5e"/><rect x="238.3" y="538.9" width="4.4" height="7.2" fill="#5e5e5e"/><rect x="242.3" y="556.4" width="4.4" height="7.2" fill="#5e5e5e"/><rect x="245.8" y="573.9" width="4.4" height="7.2" fill="#5e5e5e"/><rect x="248.6" y="542.6" width="4.4" height="7.2" fill="#5e5e5e"/><rect x="252.3" y="569.4" width="4.4" height="7.2" fill="#5e5e5e"/><rect x="258.2" y="562.6" width="4.4" height="7.2" fill="#5e5e5e"/><rect x="259.4" y="574.1" width="4.4" height="7.2" fill="#5e5e5e"/><rect x="265.0" y="563.4" width="4.4" height="7.2" fill="#5e5e5e"/><rect x="268.4" y="570.9" width="4.4" height="7.2" fill="#5e5e5e"/><rect x="272.0" y="534.4" width="4.4" height="7.2" fill="#5e5e5e"/><rect x="272.4" y="560.4" width="4.4" height="7.2" fill="#5e5e5e"/><rect x="278.6" y="540.5" width="4.4" height="7.2" fill="#5e5e5e"/><rect x="284.6" y="554.4" width="4.4" height="7.2" fill="#5e5e5e"/><rect x="286.3" y="525.8" width="4.4" height="7.2" fill="#5e5e5e"/><rect x="286.9" y="545.0" width="4.4" height="7.2" fill="#5e5e5e"/><rect x="289.4" y="575.8" width="4.4" height="7.2" fill="#5e5e5e"/><rect x="291.6" y="520.0" width="4.4" height="7.2" fill="#5e5e5e"/><rect x="292.0" y="527.5" width="4.4" height="7.2" fill="#5e5e5e"/><rect x="292.4" y="551.4" width="4.4" height="7.2" fill="#5e5e5e"/><rect x="297.0" y="566.0" width="4.4" height="7.2" fill="#5e5e5e"/><rect x="297.0" y="576.4" width="4.4" height="7.2" fill="#5e5e5e"/><rect x="303.3" y="433.9" width="4.4" height="7.2" fill="#5e5e5e"/><rect x="303.6" y="539.4" width="4.4" height="7.2" fill="#5e5e5e"/><rect x="308.5" y="568.4" width="4.4" height="7.2" fill="#5e5e5e"/><rect x="315.8" y="581.8" width="4.4" height="7.2" fill="#5e5e5e"/><rect x="321.7" y="576.4" width="4.4" height="7.2" fill="#5e5e5e"/><rect x="326.8" y="551.7" width="4.4" height="7.2" fill="#5e5e5e"/><rect x="329.0" y="589.4" width="4.4" height="7.2" fill="#5e5e5e"/><rect x="337.1" y="577.9" width="4.4" height="7.2" fill="#5e5e5e"/><rect x="339.6" y="597.4" width="4.4" height="7.2" fill="#5e5e5e"/><rect x="338.4" y="601.4" width="4.4" height="7.2" fill="#5e5e5e"/><rect x="347.0" y="569.9" width="4.4" height="7.2" fill="#5e5e5e"/><rect x="347.8" y="536.9" width="4.4" height="7.2" fill="#5e5e5e"/><rect x="356.8" y="595.4" width="4.4" height="7.2" fill="#5e5e5e"/><rect x="366.4" y="591.9" width="4.4" height="7.2" fill="#5e5e5e"/><rect x="367.5" y="618.8" width="4.4" height="7.2" fill="#5e5e5e"/><rect x="377.4" y="594.3" width="4.4" height="7.2" fill="#5e5e5e"/><rect x="378.2" y="608.7" width="4.4" height="7.2" fill="#5e5e5e"/><rect x="390.3" y="600.0" width="4.4" height="7.2" fill="#5e5e5e"/><rect x="391.2" y="623.7" width="4.4" height="7.2" fill="#5e5e5e"/><rect x="396.9" y="611.6" width="4.4" height="7.2" fill="#5e5e5e"/><rect x="397.5" y="631.8" width="4.4" height="7.2" fill="#5e5e5e"/><rect x="402.7" y="621.7" width="4.4" height="7.2" fill="#5e5e5e"/><rect x="407.0" y="623.1" width="4.4" height="7.2" fill="#5e5e5e"/><rect x="416.5" y="613.0" width="4.4" height="7.2" fill="#5e5e5e"/><rect x="417.7" y="641.9" width="4.4" height="7.2" fill="#5e5e5e"/><rect x="423.5" y="623.1" width="4.4" height="7.2" fill="#5e5e5e"/><rect x="427.2" y="638.1" width="4.4" height="7.2" fill="#5e5e5e"/><rect x="428.1" y="649.1" width="4.4" height="7.2" fill="#5e5e5e"/><rect x="437.3" y="649.9" width="4.4" height="7.2" fill="#5e5e5e"/><rect x="446.8" y="649.7" width="4.4" height="7.2" fill="#5e5e5e"/><rect x="455.5" y="651.4" width="4.4" height="7.2" fill="#5e5e5e"/><rect x="457.5" y="657.7" width="4.4" height="7.2" fill="#5e5e5e"/><rect x="476.8" y="660.0" width="4.4" height="7.2" fill="#5e5e5e"/><rect x="479.3" y="661.9" width="4.4" height="7.2" fill="#5e5e5e"/><rect x="481.2" y="662.9" width="4.4" height="7.2" fill="#5e5e5e"/>
<text x="78.8" y="465.4" font-size="15.6" fill="#fff" textLength="99" lengthAdjust="spacingAndGlyphs">Deferoxamine</text>
<text x="222.5" y="465.4" font-size="15.6" fill="#fff" textLength="79.5" lengthAdjust="spacingAndGlyphs">Deferasirox</text>
<text x="346.5" y="465.4" font-size="15.6" fill="#fff" textLength="66.5" lengthAdjust="spacingAndGlyphs">chelation</text>
<text class="b" x="155" y="396.6" font-size="12" fill="#111" textLength="42" lengthAdjust="spacingAndGlyphs">Manual</text>
<text class="b" x="160.6" y="412.6" font-size="12" fill="#111" textLength="57" lengthAdjust="spacingAndGlyphs">Exchanges</text>
<text class="b" x="354.6" y="378" font-size="12" fill="#111" textLength="62.5" lengthAdjust="spacingAndGlyphs">Automated</text>
<text class="b" x="354.6" y="393.2" font-size="12" fill="#111" textLength="56.5" lengthAdjust="spacingAndGlyphs">exchanges</text>
<text transform="translate(211.7,667.6) rotate(-90)" font-size="11.6" fill="#111" stroke="#111" stroke-width="0.4" textLength="87" lengthAdjust="spacingAndGlyphs">LIC 25.8mg/g dw</text>
<text transform="translate(371,588.5) rotate(-90)" font-size="11.5" fill="#111" stroke="#111" stroke-width="0.4" textLength="91.5" lengthAdjust="spacingAndGlyphs">LIC 13.7 mg/g dw</text>
<text transform="translate(18.9,603) rotate(-90)" font-size="13.6" fill="#111" textLength="112" lengthAdjust="spacingAndGlyphs">Serum ferritin µg/L</text>
<text x="238.6" y="715.5" font-size="14.7" fill="#111" textLength="30" lengthAdjust="spacingAndGlyphs">Year</text>
</g></svg></body></html>
